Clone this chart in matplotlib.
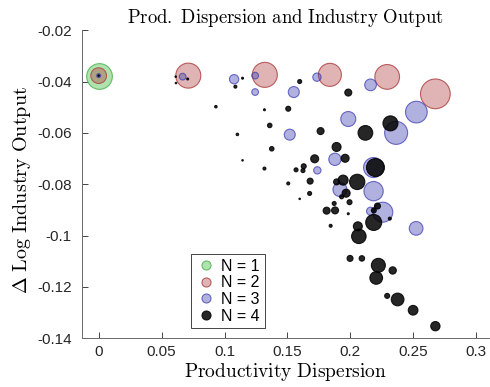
import numpy as np
import matplotlib.pyplot as plt
from matplotlib.lines import Line2D

plt.rcParams['mathtext.fontset'] = 'cm'
plt.rcParams['font.family'] = ['Liberation Sans', 'DejaVu Sans']

# bubble data: x = productivity dispersion, y = change in log output, w = bubble diameter (px)
x1 = [0.0]
y1 = [-0.0377]
w1 = [25.7]

x2 = [0.0, 0.0712, 0.132, 0.1837, 0.2292, 0.2675]
y2 = [-0.0377, -0.0377, -0.0374, -0.0374, -0.0382, -0.0448]
w2 = [15.7, 25.0, 25.0, 23.0, 24.7, 29.7]

x3 = [0.0, 0.0667, 0.1076, 0.1243, 0.1243, 0.155, 0.1734, 0.1983, 0.216, 0.2524,
      0.2363, 0.1518, 0.1877, 0.1737, 0.1917, 0.2184, 0.2257, 0.216, 0.2522, 0.2184]
y3 = [-0.0377, -0.0381, -0.0391, -0.0377, -0.0441, -0.0441, -0.0383, -0.0546, -0.0413, -0.0519,
      -0.0600, -0.0607, -0.0703, -0.0746, -0.0821, -0.0827, -0.0909, -0.0905, -0.0972, -0.0735]
w3 = [4.0, 6.7, 9.3, 6.7, 6.7, 11.0, 8.3, 15.0, 11.7, 21.7,
      23.0, 11.0, 12.3, 7.3, 14.0, 19.3, 20.0, 8.0, 13.7, 20.0]

x4 = [0.0, 0.0707, 0.0612, 0.0614, 0.0931, 0.1086, 0.1143, 0.1102, 0.1317, 0.1359,
      0.1375, 0.1597, 0.1506, 0.1763, 0.1983, 0.2119, 0.2318, 0.1890, 0.1716, 0.1958,
      0.1143, 0.1629, 0.1568, 0.1623, 0.1317, 0.1680, 0.1890, 0.1942, 0.2054, 0.1506,
      0.1676, 0.1597, 0.1966, 0.1930, 0.1993, 0.1871, 0.1878, 0.1811, 0.1983, 0.1843,
      0.2215, 0.2186, 0.2185, 0.2313, 0.2059, 0.2067, 0.1997, 0.2091, 0.2222, 0.2336,
      0.2205, 0.2292, 0.2375, 0.2498, 0.2675, 0.2199]
y4 = [-0.0377, -0.0390, -0.0381, -0.0406, -0.0498, -0.0420, -0.0387, -0.0606, -0.0510, -0.0571,
      -0.0662, -0.0400, -0.0506, -0.0593, -0.0443, -0.0600, -0.0563, -0.0655, -0.0701, -0.0699,
      -0.0707, -0.0730, -0.0744, -0.0747, -0.0739, -0.0788, -0.0791, -0.0784, -0.0791, -0.0797,
      -0.0836, -0.0857, -0.0835, -0.0849, -0.0870, -0.0875, -0.0902, -0.0903, -0.0915, -0.0962,
      -0.0885, -0.0902, -0.0949, -0.0934, -0.0964, -0.1003, -0.1089, -0.1089, -0.1116, -0.1136,
      -0.1165, -0.1235, -0.1249, -0.1291, -0.1353, -0.0735]
w4 = [1.5, 2.0, 1.5, 1.5, 2.5, 3.0, 2.0, 2.5, 2.0, 4.5,
      4.5, 4.0, 5.0, 7.0, 7.0, 14.7, 15.0, 9.0, 8.0, 8.0,
      1.5, 5.0, 4.0, 4.0, 3.0, 6.0, 6.0, 10.0, 15.3, 3.0,
      4.0, 1.5, 8.0, 4.0, 5.0, 4.0, 7.0, 7.0, 2.0, 3.0,
      6.0, 5.0, 16.0, 3.0, 9.0, 14.5, 6.0, 5.5, 14.0, 7.3,
      12.7, 5.0, 12.7, 9.7, 9.3, 18.0]

labels = ['N = 1', 'N = 2', 'N = 3', 'N = 4']
xticks = [0, 0.05, 0.1, 0.15, 0.2, 0.25, 0.3]
xticklabels = ['0', '0.05', '0.1', '0.15', '0.2', '0.25', '0.3']
yticks = [-0.14, -0.12, -0.1, -0.08, -0.06, -0.04, -0.02]
yticklabels = ['-0.14', '-0.12', '-0.1', '-0.08', '-0.06', '-0.04', '-0.02']


def area(w):
    return (np.array(w) * 0.72) ** 2


fig = plt.figure(figsize=(4.9, 3.87), dpi=100)
ax = fig.add_axes([0.1667, 0.126, 0.831, 0.796])

styles = [
    ((0.30, 0.75, 0.30, 0.45), (0.35, 0.72, 0.35, 0.9)),
    ((0.69, 0.23, 0.23, 0.38), (0.70, 0.30, 0.30, 0.9)),
    ((0.24, 0.24, 0.69, 0.40), (0.25, 0.25, 0.70, 0.75)),
    ((0.0, 0.0, 0.0, 0.85), (0.0, 0.0, 0.0, 0.85)),
]
for (xs, ys, ws), (fc, ec) in zip([(x1, y1, w1), (x2, y2, w2), (x3, y3, w3), (x4, y4, w4)], styles):
    ax.scatter(xs, ys, s=area(ws), facecolors=[fc], edgecolors=[ec], linewidths=0.8, zorder=3)

ax.set_xlim(-0.0135, 0.31)
ax.set_ylim(-0.14, -0.02)
ax.set_xticks(xticks)
ax.set_xticklabels(xticklabels)
ax.set_yticks(yticks)
ax.set_yticklabels(yticklabels)
ax.tick_params(direction='in', length=4, width=0.6, labelsize=11, colors='#262626')
ax.tick_params(axis='y', pad=7)
ax.tick_params(axis='x', pad=5)
for side in ['top', 'right']:
    ax.spines[side].set_visible(False)
for side in ['left', 'bottom']:
    ax.spines[side].set_color('#6a6a6a')
    ax.spines[side].set_linewidth(0.7)

ax.set_title(r'$\mathrm{Prod.\ Dispersion\ and\ Industry\ Output}$', fontsize=13.5, pad=5)
ax.set_xlabel(r'$\mathrm{Productivity\ Dispersion}$', fontsize=14, labelpad=1)
ax.set_ylabel(r'$\Delta\ \mathrm{Log\ Industry\ Output}$', fontsize=14.5, labelpad=3, y=0.48)

handles = [Line2D([], [], linestyle='none', marker='o', markersize=6.5,
                  markerfacecolor=fc, markeredgecolor=ec, markeredgewidth=0.8)
           for fc, ec in styles]
leg = ax.legend(handles, labels, loc='lower left', bbox_to_anchor=(0.268, 0.032),
                borderaxespad=0, fontsize=11.5, fancybox=False, framealpha=1, edgecolor='#262626',
                handletextpad=0.3, borderpad=0.3, labelspacing=0.1, handlelength=1.3)
leg.get_frame().set_linewidth(0.6)

fig.savefig('out.png', dpi=100)
